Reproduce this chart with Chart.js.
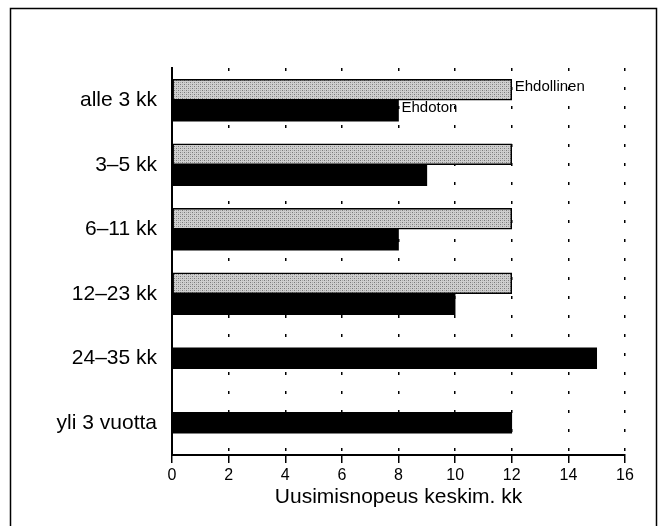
<!DOCTYPE html>
<html>
<head>
<meta charset="utf-8">
<script src="https://cdn.jsdelivr.net/npm/chart.js@4.4.1/dist/chart.umd.min.js"></script>
<style>
  html, body { margin: 0; padding: 0; background: #fff; }
  #wrap { width: 662px; height: 526px; position: relative; }
</style>
</head>
<body>
<div id="wrap"><canvas id="chart"></canvas></div>
<script>
// category labels (top to bottom)
const categories = ['alle 3 kk', '3–5 kk', '6–11 kk', '12–23 kk', '24–35 kk', 'yli 3 vuotta'];
// renewal speed, average months
const ehdollinen = [12, 12, 12, 12, null, null];
const ehdoton = [8, 9, 8, 10, 15, 12];
const xTicks = [0, 2, 4, 6, 8, 10, 12, 14, 16];

const FONT = '"Liberation Sans", Arial, sans-serif';

// stippled grey fill like the printed original
function stipple() {
    const c = document.createElement('canvas');
    c.width = 4; c.height = 4;
    const g = c.getContext('2d');
    g.fillStyle = '#cfcfcf';
    g.fillRect(0, 0, 4, 4);
    g.fillStyle = '#7a7a7a';
    g.fillRect(0, 0, 1, 1);
    g.fillRect(2, 2, 1, 1);
    g.fillStyle = '#a8a8a8';
    g.fillRect(2, 0, 1, 1);
    g.fillRect(0, 2, 1, 1);
    return g.createPattern(c, 'repeat');
}

// outer frame round the whole figure
const framePlugin = {
    id: 'frame',
    beforeDraw(chart) {
        const ctx = chart.ctx;
        ctx.save();
        ctx.strokeStyle = '#000';
        ctx.lineWidth = 1.5;
        ctx.strokeRect(10.5, 8.5, 646, 530);
        ctx.restore();
    }
};

// series names written next to the first pair of bars
const seriesLabels = {
    id: 'seriesLabels',
    afterDatasetsDraw(chart) {
        const ctx = chart.ctx;
        ctx.save();
        ctx.font = '15px ' + FONT;
        ctx.fillStyle = '#000';
        ctx.textBaseline = 'middle';
        chart.data.datasets.forEach((ds, i) => {
            const bar = chart.getDatasetMeta(i).data[0];
            if (!bar) return;
            ctx.fillText(ds.label, bar.x + 3, bar.y - 3);
        });
        ctx.restore();
    }
};

new Chart(document.getElementById('chart'), {
    type: 'bar',
    data: {
        labels: categories,
        datasets: [{
            label: 'Ehdollinen',
            data: ehdollinen,
            backgroundColor: stipple(),
            borderColor: '#000',
            borderWidth: 1.5,
            borderSkipped: false,
            skipNull: true
        }, {
            label: 'Ehdoton',
            data: ehdoton,
            backgroundColor: '#000',
            borderColor: '#000',
            borderWidth: 0,
            skipNull: true
        }]
    },
    options: {
        indexAxis: 'y',
        responsive: true,
        maintainAspectRatio: false,
        animation: false,
        layout: { padding: { top: 68, right: 37, left: 0, bottom: 0 } },
        datasets: { bar: { barThickness: 21 } },
        scales: {
            x: {
                min: 0,
                max: 16,
                afterFit: s => { s.height = 71; },
                afterBuildTicks: s => { s.ticks = xTicks.map(v => ({ value: v })); },
                border: { display: true, color: '#000', width: 2, dash: [3, 16] },
                grid: {
                    color: '#000',
                    lineWidth: 1.5,
                    drawTicks: true,
                    tickLength: 8,
                    tickBorderDash: [],
                    tickWidth: 1.5
                },
                ticks: {
                    color: '#000',
                    padding: 3,
                    font: { family: FONT, size: 16 }
                },
                title: {
                    display: true,
                    text: 'Uusimisnopeus keskim. kk',
                    color: '#000',
                    padding: { top: 0, bottom: 16 },
                    font: { family: FONT, size: 21 }
                }
            },
            y: {
                afterFit: s => { s.width = 172; },
                border: { display: true, color: '#000', width: 2 },
                grid: { display: false },
                ticks: {
                    color: '#000',
                    padding: 7,
                    font: { family: FONT, size: 21 }
                }
            }
        },
        plugins: {
            legend: { display: false },
            tooltip: { enabled: false }
        }
    },
    plugins: [framePlugin, seriesLabels]
});
</script>
</body>
</html>
